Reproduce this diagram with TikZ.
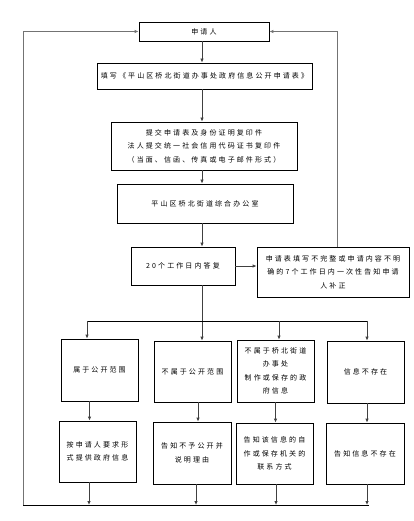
\documentclass[tikz,border=0pt]{standalone}
\usepackage{fontspec}
\newfontfamily\cjk[LetterSpace=30]{Noto Sans CJK SC}
\usetikzlibrary{arrows.meta}
\begin{document}
\begin{tikzpicture}[x=1pt,y=-1pt,
  box/.style={draw=black,line width=0.8pt,inner sep=0pt,align=center,
    font=\cjk\fontsize{7}{13.5}\selectfont},
  arr/.style={-{Latex[length=4pt,width=3.5pt]},line width=1pt,draw=black!75},
  ln/.style={line width=0.8pt,draw=black},
  loop/.style={line width=1pt,draw=black!55}]
\useasboundingbox (0,0) rectangle (413,521);
\node[box,minimum width=130pt,minimum height=19pt] (sq) at (204,31.5) {申请人};
\node[box,minimum width=215pt,minimum height=26pt] (tx) at (204.5,76) {填写《平山区桥北街道办事处政府信息公开申请表》};
\node[box,minimum width=186pt,minimum height=48pt] (tj) at (204,146) {提交申请表及身份证明复印件\\法人提交统一社会信用代码证书复印件\\（当面、信函、传真或电子邮件形式）};
\node[box,minimum width=176pt,minimum height=39pt] (bg) at (205,203.5) {平山区桥北街道综合办公室};
\node[box,minimum width=104pt,minimum height=38pt] (df) at (183,266) {20个工作日内答复};
\node[box,minimum width=152pt,minimum height=50pt] (bz) at (333,272) {申请表填写不完整或申请内容不明\\确的7个工作日内一次性告知申请\\人补正};
\node[box,minimum width=77pt,minimum height=62pt] (a1) at (99.5,370) {属于公开范围};
\node[box,minimum width=77pt,minimum height=61pt] (a2) at (192.5,371.5) {不属于公开范围};
\node[box,minimum width=77pt,minimum height=62pt] (a3) at (275.5,371) {不属于桥北街道\\办事处\\制作或保存的政\\府信息};
\node[box,minimum width=77pt,minimum height=62pt] (a4) at (365.5,372) {信息不存在};
\node[box,minimum width=77pt,minimum height=61pt] (b1) at (97.5,451.5) {按申请人要求形\\式提供政府信息};
\node[box,minimum width=78pt,minimum height=62pt] (b2) at (192,453) {告知不予公开并\\说明理由};
\node[box,minimum width=77pt,minimum height=61pt] (b3) at (274.5,453.5) {告知该信息的自\\作或保存机关的\\联系方式};
\node[box,minimum width=78pt,minimum height=61pt] (b4) at (365,453.5) {告知信息不存在};
\coordinate (cx) at (202,0);
\coordinate (rx) at (337,0);
\coordinate (bl) at (87,321);
\coordinate (bm) at (279,321);
\coordinate (brr) at (367,321);
\coordinate (bot) at (23,505);
\coordinate (botr) at (369,505);
\draw[arr] (sq.south -| cx) -- (tx.north -| cx);
\draw[arr] (tx.south -| cx) -- (tj.north -| cx);
\draw[arr] (tj.south -| cx) -- (bg.north -| cx);
\draw[arr] (bg.south -| cx) -- (df.north -| cx);
\draw[arr] (df.east) -- (df.east -| bz.west);
\draw[arr] (df.south -| cx) -- (a2.north -| cx);
\draw[ln] (bl) -- (brr);
\draw[arr] (bl) -- (bl |- a1.north);
\draw[arr] (bm) -- (bm |- a3.north);
\draw[arr] (brr) -- (brr |- a4.north);
\draw[arr] ([xshift=-10pt]a1.south) -- ([xshift=-10pt]a1.south |- b1.north);
\draw[arr] ([xshift=5.5pt]a2.south) -- ([xshift=5.5pt]a2.south |- b2.north);
\draw[arr] (a3.south) -- (a3.south |- b3.north);
\draw[arr] ([xshift=1.5pt]a4.south) -- ([xshift=1.5pt]a4.south |- b4.north);
\draw[arr] ([xshift=-8.5pt]b1.south) -- ([xshift=-8.5pt]b1.south |- bot);
\draw[arr] ([xshift=4pt]b2.south) -- ([xshift=4pt]b2.south |- bot);
\draw[arr] ([xshift=1.5pt]b3.south) -- ([xshift=1.5pt]b3.south |- bot);
\draw[arr] ([xshift=2pt]b4.south) -- ([xshift=2pt]b4.south |- bot);
\draw[ln] (botr) -- (bot);
\draw[loop,-{Latex[length=4pt,width=3.5pt]}] (bot) |- (sq.west);
\draw[loop,-{Latex[length=4pt,width=3.5pt]}] (bz.north -| rx) |- (sq.east);
\end{tikzpicture}
\end{document}
